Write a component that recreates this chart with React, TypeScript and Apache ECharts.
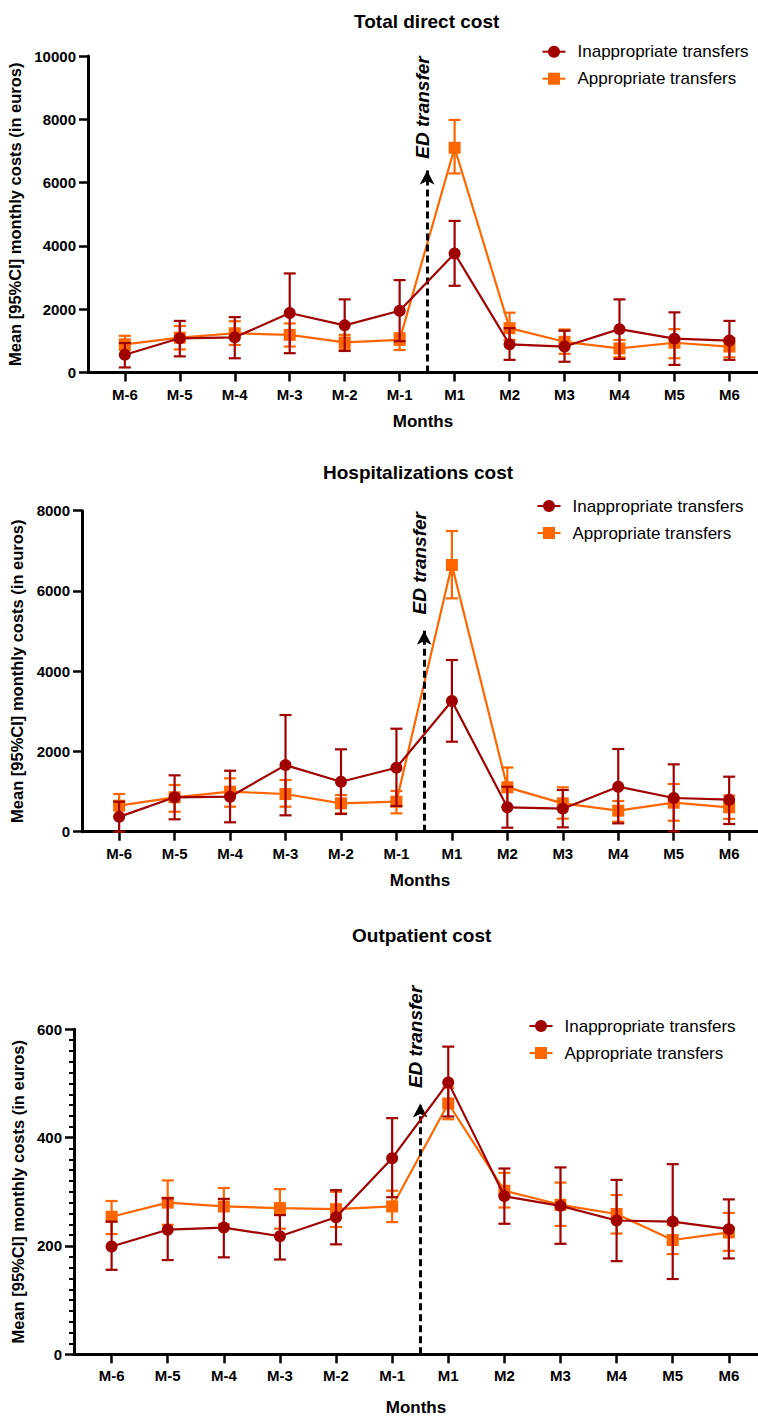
import React, { useEffect, useRef } from 'react';
import * as echarts from 'echarts';

const months = ['M-6', 'M-5', 'M-4', 'M-3', 'M-2', 'M-1', 'M1', 'M2', 'M3', 'M4', 'M5', 'M6'];
const panelTitles = ['Total direct cost', 'Hospitalizations cost', 'Outpatient cost'];
const seriesNames = ['Inappropriate transfers', 'Appropriate transfers'];
const yTitle = 'Mean [95%CI] monthly costs (in euros)';
const xTitle = 'Months';
const edText = 'ED transfer';

const yMax = [10000, 8000, 600];
const yInterval = [2000, 2000, 200];

// Total direct cost
const totalInappMean = [560, 1080, 1110, 1880, 1490, 1950, 3760, 890, 820, 1370, 1070, 1010];
const totalInappLow = [160, 510, 450, 610, 680, 990, 2740, 400, 340, 430, 240, 400];
const totalInappHigh = [930, 1630, 1750, 3130, 2310, 2920, 4790, 1400, 1320, 2310, 1900, 1630];
const totalAppMean = [890, 1100, 1240, 1190, 950, 1030, 7100, 1400, 970, 760, 940, 820];
const totalAppLow = [710, 730, 870, 820, 730, 710, 6290, 1030, 590, 480, 450, 480];
const totalAppHigh = [1160, 1470, 1620, 1550, 1190, 1240, 7980, 1890, 1360, 1030, 1370, 1080];

// Hospitalizations cost
const hospInappMean = [370, 857, 872, 1660, 1246, 1595, 3257, 608, 574, 1122, 840, 798];
const hospInappLow = [0, 309, 234, 408, 441, 640, 2243, 100, 108, 208, 8, 192];
const hospInappHigh = [748, 1405, 1520, 2908, 2053, 2567, 4279, 1121, 1039, 2061, 1679, 1371];
const hospAppMean = [648, 857, 997, 940, 707, 748, 6647, 1106, 707, 524, 723, 608];
const hospAppLow = [380, 498, 623, 623, 457, 457, 5816, 620, 324, 249, 274, 320];
const hospAppHigh = [940, 1164, 1330, 1288, 914, 1014, 7494, 1600, 1106, 765, 1189, 900];

// Outpatient cost
const outInappMean = [199, 230, 234, 218, 253, 362, 502, 292, 274, 247, 245, 231];
const outInappLow = [156, 174, 179, 175, 203, 290, 439, 241, 204, 172, 139, 177];
const outInappHigh = [245, 288, 287, 257, 303, 436, 568, 343, 345, 322, 351, 286];
const outAppMean = [254, 280, 273, 270, 268, 273, 463, 302, 276, 259, 211, 225];
const outAppLow = [222, 239, 240, 232, 235, 244, 434, 271, 237, 223, 185, 191];
const outAppHigh = [283, 321, 307, 305, 300, 302, 492, 335, 317, 294, 239, 261];

// ED transfer annotation (x between M-1 and M1, arrow tip value, label centre value)
const edX = 5.5;
const edArrowTop = [6380, 5010, 463];
const edLabelX = 5.41;
const edLabelY = [8373, 6689, 586];

const panels = [
  { inapp: [totalInappMean, totalInappLow, totalInappHigh], app: [totalAppMean, totalAppLow, totalAppHigh] },
  { inapp: [hospInappMean, hospInappLow, hospInappHigh], app: [hospAppMean, hospAppLow, hospAppHigh] },
  { inapp: [outInappMean, outInappLow, outInappHigh], app: [outAppMean, outAppLow, outAppHigh] },
];

const DARK = '#A00000';
const ORANGE = '#FF6600';
const FONT = '"Liberation Sans", Arial, Helvetica, sans-serif';

const layout = [
  { left: 88, top: 56, height: 316.5, titleLeft: 354, titleTop: 11.5, legendLeft: 541.5, legendTop: 41.7, yNameGap: 58, xNameGap: 40, minor: false },
  { left: 82, top: 510.7, height: 321, titleLeft: 323, titleTop: 463, legendLeft: 536.5, legendTop: 496, yNameGap: 52, xNameGap: 40, minor: false },
  { left: 74, top: 1029.3, height: 325, titleLeft: 352, titleTop: 926, legendLeft: 528.5, legendTop: 1016, yNameGap: 44, xNameGap: 45, minor: true },
];

const tickIdx = months.map((_, i) => i);

function errorBarSeries(name: string, color: string, idx: number, lo: number[], hi: number[], z: number) {
  return {
    type: 'custom',
    name,
    xAxisIndex: idx,
    yAxisIndex: idx,
    z,
    silent: true,
    clip: false,
    encode: { x: 0, y: [1, 2] },
    data: months.map((_, i) => [i, lo[i], hi[i]]),
    renderItem: (_params: any, api: any) => {
      const x = api.value(0);
      const top = api.coord([x, api.value(2)]);
      const bot = api.coord([x, api.value(1)]);
      const w = 6;
      const style = { stroke: color, lineWidth: 2.2 };
      return {
        type: 'group',
        children: [
          { type: 'line', shape: { x1: top[0], y1: top[1], x2: bot[0], y2: bot[1] }, style },
          { type: 'line', shape: { x1: top[0] - w, y1: top[1], x2: top[0] + w, y2: top[1] }, style },
          { type: 'line', shape: { x1: bot[0] - w, y1: bot[1], x2: bot[0] + w, y2: bot[1] }, style },
        ],
      };
    },
  };
}

export default function App() {
  const ref = useRef<HTMLDivElement>(null);
  useEffect(() => {
    if (!ref.current) return;
    const chart = echarts.init(ref.current, null, { renderer: 'svg' });

    const grid = layout.map((l) => ({ left: l.left, top: l.top, height: l.height, right: 0, outerBoundsMode: 'none' }));
    const title = layout.map((l, k) => ({
      text: panelTitles[k],
      left: l.titleLeft,
      top: l.titleTop,
      padding: 0,
      textStyle: { fontSize: 19, fontWeight: 'bold', color: '#000', fontFamily: FONT },
    }));
    const legend = layout.map((l) => ({
      data: seriesNames,
      orient: 'vertical',
      left: l.legendLeft,
      top: l.legendTop,
      padding: 0,
      itemWidth: 23,
      itemHeight: 15,
      itemGap: 7,
      selectedMode: false,
      textStyle: { fontSize: 17, color: '#000', fontFamily: FONT, lineHeight: 20, padding: [0, 0, 0, 7] },
    }));
    const xAxis = layout.map((l, k) => ({
      type: 'value',
      gridIndex: k,
      min: -0.67,
      max: 11.52,
      name: xTitle,
      nameLocation: 'middle',
      nameGap: l.xNameGap,
      nameTextStyle: { fontSize: 17, fontWeight: 'bold', color: '#000', fontFamily: FONT },
      splitLine: { show: false },
      axisLine: { show: true, onZero: false, lineStyle: { color: '#000', width: 3 } },
      axisTick: { show: true, customValues: tickIdx, length: 9, lineStyle: { color: '#000', width: 2.5 } },
      axisLabel: {
        customValues: tickIdx,
        formatter: (v: number) => months[Math.round(v)] ?? '',
        margin: 14,
        fontSize: 15,
        fontWeight: 'bold',
        color: '#000',
        fontFamily: FONT,
      },
    }));
    const yAxis = layout.map((l, k) => ({
      type: 'value',
      gridIndex: k,
      min: 0,
      max: yMax[k],
      interval: yInterval[k],
      name: yTitle,
      nameLocation: 'middle',
      nameRotate: 90,
      nameGap: l.yNameGap,
      nameTextStyle: { fontSize: 16.5, fontWeight: 'bold', color: '#000', fontFamily: FONT },
      splitLine: { show: false },
      axisLine: { show: true, onZero: false, lineStyle: { color: '#000', width: 3 } },
      axisTick: { show: true, length: 9, lineStyle: { color: '#000', width: 2.5 } },
      minorTick: { show: l.minor, splitNumber: 10, length: 5, lineStyle: { color: '#000', width: 2 } },
      axisLabel: {
        margin: 12,
        fontSize: 15,
        fontWeight: 'bold',
        color: '#000',
        fontFamily: FONT,
        formatter: (v: number) => String(v),
      },
    }));

    const series: any[] = [];
    panels.forEach((p, k) => {
      series.push({
        type: 'line',
        name: seriesNames[0],
        xAxisIndex: k,
        yAxisIndex: k,
        z: 6,
        data: months.map((_, i) => [i, p.inapp[0][i]]),
        symbol: 'circle',
        symbolSize: 12,
        lineStyle: { color: DARK, width: 2.2 },
        itemStyle: { color: DARK },
      });
      series.push({
        type: 'line',
        name: seriesNames[1],
        xAxisIndex: k,
        yAxisIndex: k,
        z: 4,
        data: months.map((_, i) => [i, p.app[0][i]]),
        symbol: 'rect',
        symbolSize: 12,
        lineStyle: { color: ORANGE, width: 2.2 },
        itemStyle: { color: ORANGE },
        markLine: {
          silent: true,
          symbol: ['none', 'arrow'],
          symbolSize: [11, 14],
          label: { show: false },
          lineStyle: { color: '#000', width: 3, type: [7, 4] },
          data: [[{ coord: [edX, 0] }, { coord: [edX, edArrowTop[k]] }]],
        },
        markPoint: {
          silent: true,
          symbol: 'circle',
          symbolSize: 0,
          data: [{ coord: [edLabelX, edLabelY[k]] }],
          label: {
            show: true,
            position: 'inside',
            formatter: edText,
            rotate: 90,
            fontSize: 19,
            fontWeight: 'bold',
            fontStyle: 'italic',
            color: '#000',
            fontFamily: FONT,
          },
        },
      });
      series.push(errorBarSeries(seriesNames[1] + ' CI', ORANGE, k, p.app[1], p.app[2], 3));
      series.push(errorBarSeries(seriesNames[0] + ' CI', DARK, k, p.inapp[1], p.inapp[2], 5));
    });

    chart.setOption({
      animation: false,
      backgroundColor: '#fff',
      title,
      legend,
      grid,
      xAxis,
      yAxis,
      series,
    });
    return () => chart.dispose();
  }, []);

  return (
    <div
      ref={ref}
      style={{ position: 'absolute', left: 0, top: 0, width: 758, height: 1416, background: '#fff' }}
    />
  );
}
